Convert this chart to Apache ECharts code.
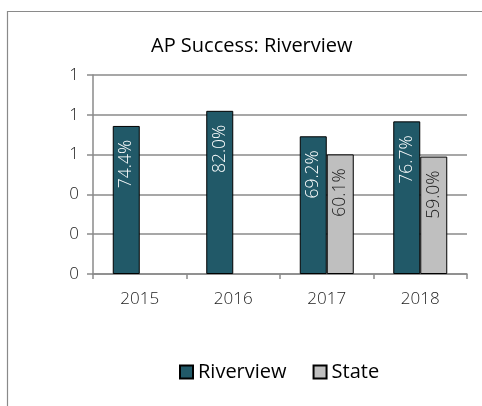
<!DOCTYPE html>
<html>
<head>
<meta charset="utf-8">
<script src="https://cdn.jsdelivr.net/npm/echarts@6/dist/echarts.min.js"></script>
<style>
  html, body { margin: 0; padding: 0; background: #fff; }
  #demo { width: 482px; height: 406px; }
</style>
</head>
<body>
<div id="demo"></div>
<script>
// 数据
var years = ['2015', '2016', '2017', '2018'];
var riverview = [0.744, 0.820, 0.692, 0.767];
var state = [null, null, 0.601, 0.590];
var seriesNames = ['Riverview', 'State'];

var font = 'Open Sans';

function pct(p) {
    return (p.value * 100).toFixed(1) + '%';
}

var chartDom = document.getElementById('demo');
var myChart = echarts.init(chartDom);
var option;
option = {
    animation: false,
    textStyle: { fontFamily: font },
    title: {
        text: 'AP Success: Riverview',
        left: 146,
        top: 31,
        textStyle: { fontFamily: font, fontSize: 20, fontWeight: 'normal', color: '#000' }
    },
    // 外框
    graphic: [{
        type: 'rect',
        shape: { x: 7.5, y: 11.5, width: 520, height: 440 },
        style: { fill: 'none', stroke: '#8a8a8a', lineWidth: 1.2 },
        silent: true
    }],
    legend: {
        data: seriesNames,
        left: 174,
        top: 357,
        icon: 'rect',
        itemWidth: 13,
        itemHeight: 13,
        itemGap: 26,
        textStyle: { fontFamily: font, fontSize: 20, color: '#000' }
    },
    grid: { left: 93, right: 15, top: 75, bottom: 132 },
    xAxis: {
        type: 'category',
        data: years,
        axisLine: { lineStyle: { color: '#8a8a8a', width: 1.5 } },
        axisTick: { show: true, length: 5, lineStyle: { color: '#8a8a8a', width: 1.5 } },
        axisLabel: { color: '#222', fontSize: 17, margin: 17, fontFamily: font, fontWeight: 300 }
    },
    yAxis: {
        type: 'value',
        min: 0,
        max: 1,
        interval: 0.2,
        axisLine: { show: true, lineStyle: { color: '#8a8a8a', width: 1.5 } },
        axisTick: { show: true, length: 6, lineStyle: { color: '#8a8a8a', width: 1.5 } },
        splitLine: { lineStyle: { color: '#8a8a8a', width: 1.5 } },
        axisLabel: {
            color: '#222', fontSize: 17, margin: 14, fontFamily: font, fontWeight: 300,
            formatter: function (v) { return v.toFixed(0); }
        }
    },
    series: [
        {
            name: seriesNames[0],
            type: 'bar',
            data: riverview,
            barWidth: 27,
            barGap: '0%',
            itemStyle: { color: '#215968', borderColor: '#000', borderWidth: 1 },
            label: {
                show: true, position: 'insideTop', rotate: 90, align: 'right',
                verticalAlign: 'middle', distance: 14, formatter: pct,
                color: '#fff', fontSize: 17.5, fontWeight: 300, fontFamily: font
            }
        },
        {
            name: seriesNames[1],
            type: 'bar',
            data: state,
            barWidth: 27,
            barGap: '0%',
            itemStyle: { color: '#bfbfbf', borderColor: '#000', borderWidth: 1 },
            label: {
                show: true, position: 'insideTop', rotate: 90, align: 'right',
                verticalAlign: 'middle', distance: 14, formatter: pct,
                color: '#222', fontSize: 17.5, fontWeight: 300, fontFamily: font
            }
        }
    ]
};
option && myChart.setOption(option);
</script>
</body>
</html>
